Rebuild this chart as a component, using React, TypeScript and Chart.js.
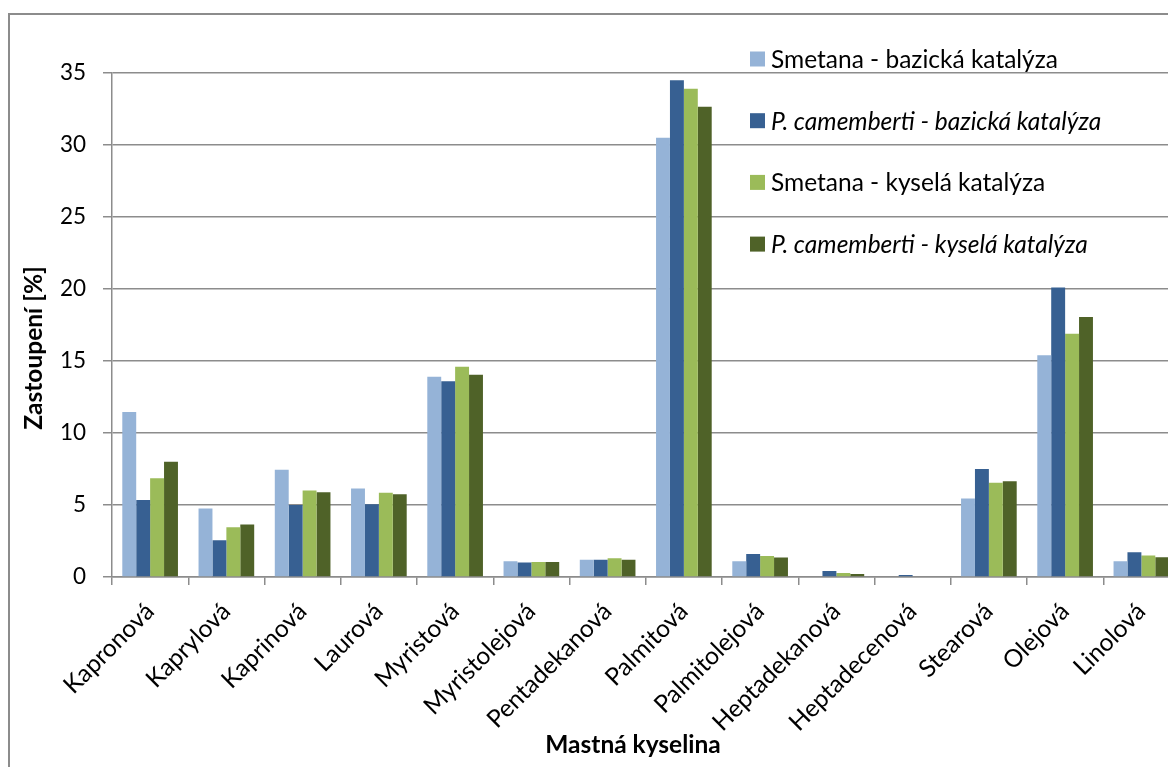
import React, { useEffect, useRef } from "react";
import { Chart, registerables } from "chart.js";

Chart.register(...registerables);

const categories = [
  "Kapronová",
  "Kaprylová",
  "Kaprinová",
  "Laurová",
  "Myristová",
  "Myristolejová",
  "Pentadekanová",
  "Palmitová",
  "Palmitolejová",
  "Heptadekanová",
  "Heptadecenová",
  "Stearová",
  "Olejová",
  "Linolová",
];

const smetanaBazicka = [11.45, 4.75, 7.45, 6.15, 13.9, 1.1, 1.2, 30.5, 1.1, 0, 0, 5.45, 15.4, 1.1];
const camembertiBazicka = [5.35, 2.55, 5.0, 5.05, 13.6, 1.0, 1.2, 34.5, 1.6, 0.42, 0.14, 7.5, 20.1, 1.72];
const smetanaKysela = [6.85, 3.45, 6.0, 5.85, 14.6, 1.05, 1.3, 33.9, 1.45, 0.28, 0, 6.55, 16.9, 1.5];
const camembertiKysela = [8.0, 3.65, 5.88, 5.75, 14.05, 1.05, 1.2, 32.65, 1.35, 0.2, 0, 6.65, 18.05, 1.38];

const seriesLabels = [
  "Smetana - bazická katalýza",
  "P. camemberti - bazická katalýza",
  "Smetana - kyselá katalýza",
  "P. camemberti - kyselá katalýza",
];
const seriesItalic = [false, true, false, true];
const seriesColors = ["#95B3D7", "#376092", "#9BBB59", "#4F6228"];

const xTitle = "Mastná kyselina";
const yTitle = "Zastoupení [%]";

const FONT = "Lato, 'DejaVu Sans', sans-serif";
const AXIS_COLOR = "#8c8c8c";
const TEXT_SIZE = 24.5;

// Legend stacked inside the plot area, with italic species names
const legendPlugin = {
  id: "insideLegend",
  afterDraw(chart: any) {
    const ctx = chart.ctx;
    ctx.save();
    const x0 = 740;
    const y0 = 44;
    const step = 61.7;
    chart.data.datasets.forEach((ds: any, i: number) => {
      const cy = y0 + i * step;
      ctx.fillStyle = ds.backgroundColor;
      ctx.fillRect(x0, cy - 7.5, 15, 15);
      ctx.fillStyle = "#000";
      ctx.font = `${seriesItalic[i] ? "italic " : ""}${TEXT_SIZE}px ${FONT}`;
      ctx.textBaseline = "middle";
      ctx.textAlign = "left";
      ctx.fillText(ds.label, x0 + 21, cy + 1);
    });
    ctx.restore();
  },
};

// Axis titles placed as in the original layout
const axisTitlePlugin = {
  id: "axisTitles",
  afterDraw(chart: any) {
    const ctx = chart.ctx;
    ctx.save();
    ctx.fillStyle = "#000";
    ctx.font = `bold ${TEXT_SIZE}px ${FONT}`;
    ctx.textAlign = "center";
    ctx.textBaseline = "middle";
    ctx.fillText(xTitle, 623, 730);
    ctx.translate(24, 333);
    ctx.rotate(-Math.PI / 2);
    ctx.fillText(yTitle, 0, 0);
    ctx.restore();
  },
};

export default function App() {
  const canvasRef = useRef<HTMLCanvasElement | null>(null);

  useEffect(() => {
    if (!canvasRef.current) return;
    const values = [smetanaBazicka, camembertiBazicka, smetanaKysela, camembertiKysela];
    const chart = new Chart(canvasRef.current, {
      type: "bar",
      data: {
        labels: categories,
        datasets: values.map((data, i) => ({
          label: seriesLabels[i],
          data,
          backgroundColor: seriesColors[i],
          borderWidth: 0,
          categoryPercentage: 0.73,
          barPercentage: 1.0,
        })),
      },
      options: {
        responsive: false,
        animation: false,
        devicePixelRatio: 1,
        layout: { padding: { top: 58, right: 20.5, left: 0, bottom: 0 } },
        plugins: {
          legend: { display: false },
          tooltip: { enabled: false },
        },
        scales: {
          x: {
            grid: {
              display: true,
              offset: true,
              drawOnChartArea: false,
              drawTicks: true,
              tickLength: 8,
              color: AXIS_COLOR,
              lineWidth: 1.5,
            },
            border: { display: true, color: AXIS_COLOR, width: 1.5 },
            ticks: {
              autoSkip: false,
              maxRotation: 45,
              minRotation: 45,
              padding: 12,
              labelOffset: 0,
              color: "#000",
              font: { family: FONT, size: TEXT_SIZE },
            },
            afterFit(scale: any) {
              scale.height = 190;
            },
          },
          y: {
            min: 0,
            max: 35,
            grid: {
              color: AXIS_COLOR,
              lineWidth: 1.5,
              drawTicks: true,
              tickLength: 9,
            },
            border: { display: true, color: AXIS_COLOR, width: 1.5 },
            ticks: {
              stepSize: 5,
              padding: 17,
              color: "#000",
              font: { family: FONT, size: 22.5 },
            },
            afterFit(scale: any) {
              scale.width = 102;
            },
          },
        },
      },
      plugins: [legendPlugin, axisTitlePlugin],
    });
    return () => chart.destroy();
  }, []);

  return (
    <div
      style={{
        position: "fixed",
        left: 0,
        top: 0,
        width: 1168,
        height: 767,
        overflow: "hidden",
        background: "#fff",
      }}
    >
      <div
        style={{
          position: "absolute",
          left: 8,
          top: 13,
          width: 1230,
          height: 800,
          border: `2px solid ${AXIS_COLOR}`,
          boxSizing: "border-box",
        }}
      >
        <canvas
          ref={canvasRef}
          width={1190}
          height={752}
          style={{ display: "block", width: 1190, height: 752 }}
        />
      </div>
    </div>
  );
}
